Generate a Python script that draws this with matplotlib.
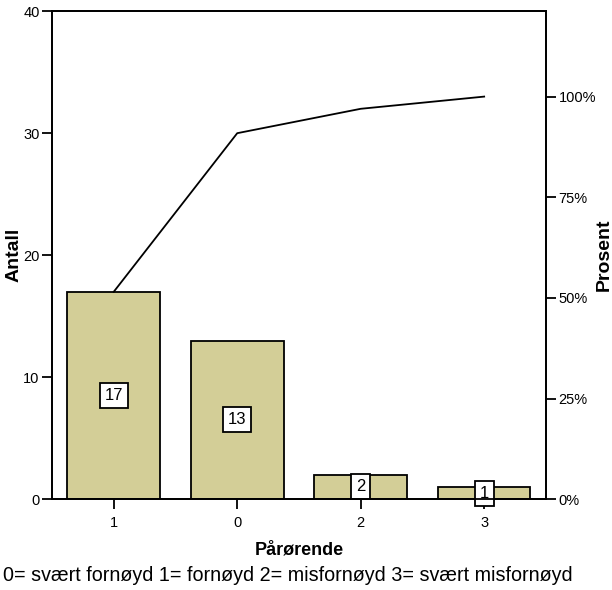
import matplotlib
matplotlib.use("Agg")
import matplotlib.pyplot as plt

plt.rcParams['font.family'] = ['Liberation Sans', 'DejaVu Sans']

categories = ["1", "0", "2", "3"]
counts = [17, 13, 2, 1]
cumulative = [17, 30, 32, 33]
total = 33
left_ticks = [0, 10, 20, 30, 40]
pct_ticks = [0, 25, 50, 75, 100]

fig = plt.figure(figsize=(6.12, 5.90), dpi=100)
ax = fig.add_axes([0.085, 0.154, 0.807, 0.827])

x = list(range(len(categories)))
ax.bar(x, counts, width=0.75, color="#D3CE97", edgecolor="black", linewidth=1.3, zorder=2)
ax.plot(x, cumulative, color="black", linewidth=1.3, zorder=3)

# count labels in white boxes, half way up each bar
for xi, c in zip(x, counts):
    ax.text(xi, c / 2, str(c), ha="center", va="center", fontsize=12, zorder=4,
            bbox=dict(boxstyle="square,pad=0.3", facecolor="white", edgecolor="black", linewidth=1.3))

ax.set_xlim(-0.5, len(categories) - 0.5)
ax.set_ylim(0, 40)
ax.set_xticks(x)
ax.set_xticklabels(categories)
ax.set_yticks(left_ticks)
ax.tick_params(axis="both", direction="out", length=7, width=1.3, labelsize=10.5, pad=2)
ax.tick_params(axis="x", pad=5)
for s in ax.spines.values():
    s.set_linewidth(1.3)
ax.set_ylabel("Antall", fontsize=14, fontweight="bold")
ax.yaxis.set_label_coords(-0.06, 0.5)
ax.set_xlabel("Pårørende", fontsize=13, fontweight="bold")
ax.xaxis.set_label_coords(0.5, -0.086)

# percent axis: 100% = total count
ax2 = ax.twinx()
ax2.set_ylim(0, 40)
ax2.set_yticks([p / 100 * total for p in pct_ticks])
ax2.set_yticklabels([f"{p}%" for p in pct_ticks])
ax2.tick_params(axis="y", direction="out", length=7, width=1.3, labelsize=10.5, pad=2)
for s in ax2.spines.values():
    s.set_linewidth(1.3)
ax2.set_ylabel("Prosent", fontsize=14, fontweight="bold")
ax2.yaxis.set_label_coords(1.1, 0.5)

fig.text(0.005, 0.025, "0= svært fornøyd 1= fornøyd 2= misfornøyd 3= svært misfornøyd",
         fontsize=14.2, ha="left", va="center")

fig.savefig("out.png", dpi=100)
